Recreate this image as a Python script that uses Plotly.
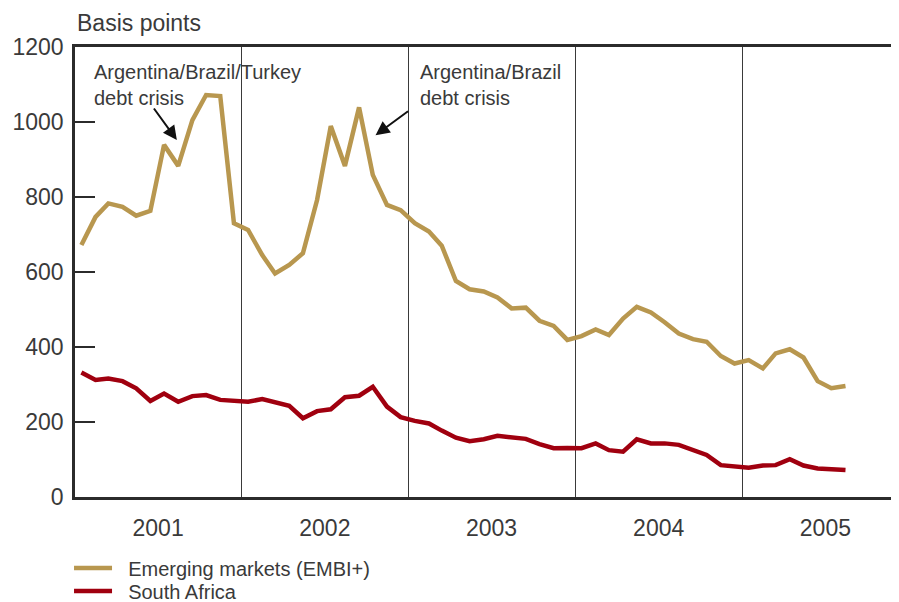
import plotly.graph_objects as go

months = [f"{y}-{m:02d}-15" for y in range(2001, 2006) for m in range(1, 13)][:56]

embi = [672, 747, 783, 774, 750, 763, 939, 883, 1005, 1072, 1069, 730,
        712, 645, 596, 619, 650, 792, 989, 883, 1039, 859, 779, 765,
        730, 708, 670, 576, 554, 548, 532, 503, 505, 470, 456, 419,
        429, 447, 432, 476, 507, 492, 466, 436, 421, 414, 376, 356,
        365, 343, 383, 394, 372, 309, 290, 296]

south_africa = [332, 312, 316, 309, 290, 256, 276, 254, 269, 272, 259, 256,
                254, 261, 252, 243, 210, 229, 234, 266, 270, 294, 241, 213,
                203, 196, 177, 158, 149, 154, 163, 158, 155, 141, 130, 131,
                130, 143, 125, 121, 154, 143, 143, 139, 125, 112, 85, 81,
                78, 84, 85, 101, 84, 76, 75, 72]

year_labels = ["2001", "2002", "2003", "2004", "2005"]
year_centers = ["2001-07-02", "2002-07-02", "2003-07-02", "2004-07-02", "2005-07-02"]
y_ticks = [0, 200, 400, 600, 800, 1000, 1200]

FONT = "Liberation Sans, Arial, sans-serif"
TXT = "#3a3a3a"
GOLD = "#B8974F"
RED = "#A0000F"
NB = "\u00a0\u00a0"

fig = go.Figure()
fig.add_trace(go.Scatter(x=months, y=embi, mode="lines", name=NB + "Emerging markets (EMBI+)",
                         line=dict(color=GOLD, width=4.5), legend="legend"))
fig.add_trace(go.Scatter(x=months, y=south_africa, mode="lines", name=NB + "South Africa",
                         line=dict(color=RED, width=4.5), legend="legend2"))

# Annotations
fig.add_annotation(x="2001-02-08", y=1168, xref="x", yref="y", text="Argentina/Brazil/Turkey<br>debt crisis",
                   showarrow=False, xanchor="left", yanchor="top", align="left",
                   font=dict(family=FONT, size=20, color=TXT))
fig.add_annotation(x="2001-08-12", y=952, xref="x", yref="y", text="", showarrow=True,
                   ax=-24, ay=-33, arrowhead=2, arrowsize=1.4, arrowwidth=2, arrowcolor="#111111")
fig.add_annotation(x="2003-01-21", y=1168, xref="x", yref="y", text="Argentina/Brazil<br>debt crisis",
                   showarrow=False, xanchor="left", yanchor="top", align="left",
                   font=dict(family=FONT, size=20, color=TXT))
fig.add_annotation(x="2002-10-21", y=965, xref="x", yref="y", text="", showarrow=True,
                   ax=34, ay=-25, arrowhead=2, arrowsize=1.4, arrowwidth=2, arrowcolor="#111111")

legend_common = dict(orientation="v", xanchor="left", yanchor="top", x=-0.0073,
                     font=dict(family=FONT, size=20, color=TXT), itemwidth=38,
                     bgcolor="rgba(0,0,0,0)")

# The page body has an 8px margin, so the figure is drawn 8px smaller and offset.
fig.update_layout(
    width=891, height=594,
    margin=dict(l=67, r=6, t=39, b=105, autoexpand=False),
    paper_bgcolor="white", plot_bgcolor="white",
    font=dict(family=FONT, size=23, color=TXT),
    showlegend=True,
    legend=dict(legend_common, y=-0.1146),
    legend2=dict(legend_common, y=-0.1657),
    xaxis=dict(
        type="date", range=["2001-01-01", "2005-11-27"],
        tickvals=year_centers, ticktext=year_labels,
        ticks="outside", ticklen=9, tickcolor="rgba(0,0,0,0)",
        showgrid=False, zeroline=False, automargin=False,
        showline=True, linecolor="#2b2b2b", linewidth=2.5, mirror=True,
        minor=dict(dtick="M12", tick0="2001-01-01", showgrid=True, gridcolor="#3a3a3a", gridwidth=1.2),
        tickfont=dict(family=FONT, size=23, color=TXT),
    ),
    yaxis=dict(
        range=[0, 1200], tickvals=y_ticks, ticktext=[str(v) for v in y_ticks],
        ticks="inside", ticklen=20, tickwidth=2, tickcolor="#2b2b2b",
        showgrid=False, zeroline=False, automargin=False,
        showline=True, linecolor="#2b2b2b", linewidth=2.5,
        ticklabelstandoff=4,
        tickfont=dict(family=FONT, size=23, color=TXT),
    ),
)
fig.add_annotation(x=0, y=1.02, xref="paper", yref="paper", text="Basis points", showarrow=False,
                   xanchor="left", yanchor="bottom", font=dict(family=FONT, size=23, color=TXT))

fig.write_html("out.html")
